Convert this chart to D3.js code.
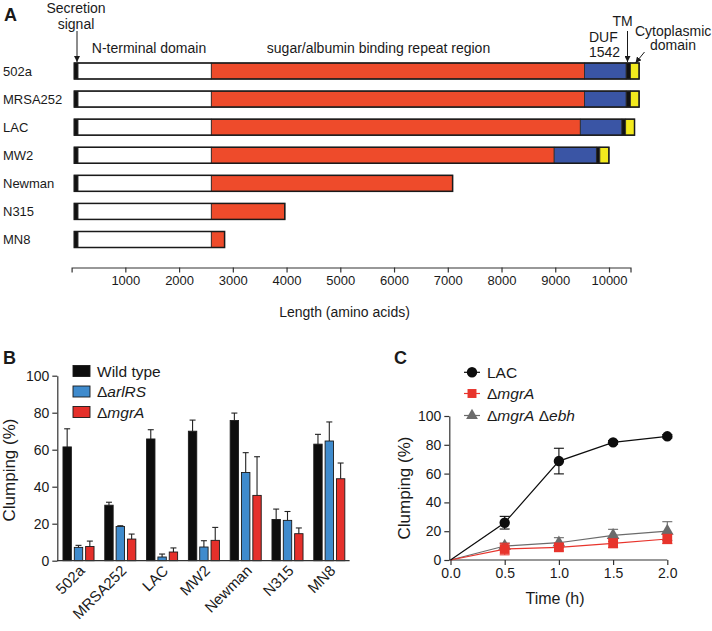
<!DOCTYPE html>
<html><head><meta charset="utf-8">
<script src="https://cdn.jsdelivr.net/npm/d3@7"></script>
<style>
body{margin:0;background:#fff}
svg text{font-family:"Liberation Sans",Arial,Helvetica,sans-serif;fill:#1a1a1a}
</style></head><body>
<svg id="c" width="712" height="631"></svg>
<script>
// ---------- Panel A data ----------
const strainsA = ["502a","MRSA252","LAC","MW2","Newman","N315","MN8"];
const proteinStart = [50,50,50,50,50,50,50];
const signalEnd = [120,120,120,120,120,120,120];
const ntermEnd = [2600,2600,2600,2600,2600,2600,2600];
const repeatEnd = [9545,9545,9466,8980,7090,3967,2847];
const dufEnd = [10320,10320,10240,9765,null,null,null];
const tmEnd = [10400,10400,10310,9830,null,null,null];
const cytoEnd = [10560,10560,10475,9998,null,null,null];
const lengthTicks = [1000,2000,3000,4000,5000,6000,7000,8000,9000,10000];

// ---------- Panel B data ----------
const strainsB = ["502a","MRSA252","LAC","MW2","Newman","N315","MN8"];
const seriesB = ["Wild type","ΔarlRS","ΔmgrA"];
const wildType = [61.5,30,65.8,70,75.8,22.3,63];
const wildTypeErr = [9.8,1.6,5,6,4,5.6,5.3];
const arlRS = [7.2,18.5,2,7.4,47.7,21.8,64.7];
const arlRSErr = [1.1,0.4,1.6,3.4,10.7,4.8,10.3];
const mgrA = [7.7,11.7,4.7,11,35.3,14.6,44.3];
const mgrAErr = [2.9,2.7,2.2,7,20.9,3.1,8.5];
const clumpTicks = [0,20,40,60,80,100];

// ---------- Panel C data ----------
const timeH = [0,0.5,1,1.5,2];
const lacC = [0,25.9,68.7,81.7,85.9];
const lacErrC = [0,4.4,8.9,1.2,1.2];
const mgrAC = [0,7.6,8.8,11.6,14.6];
const mgrAErrC = [0,4,2.5,3,3.2];
const ebhC = [0,9.7,12,17.1,20.1];
const ebhErrC = [0,2,3.5,4.2,6.5];
const timeTicks = [0,0.5,1,1.5,2];

const svg = d3.select("#c");
const ink = "#1a1a1a";

// arrow marker
svg.append("defs").append("marker").attr("id","ah").attr("viewBox","0 0 10 10")
  .attr("refX",10).attr("refY",5).attr("markerWidth",6).attr("markerHeight",6)
  .attr("markerUnits","userSpaceOnUse").attr("orient","auto")
  .append("path").attr("d","M0,0L10,5L0,10z").attr("fill",ink);

// =============== Panel A ===============
const xA = d3.scaleLinear().domain([0,10400]).range([71.6,630.5]);
const yA = d3.scalePoint().domain(strainsA).range([71,239.5]);
const barH = 16;
const cols = {sig:"#111", nt:"#ffffff", rep:"#ee4b2b", duf:"#3a55a5", tm:"#111", cyto:"#f3ea1e"};
const gA = svg.append("g");
strainsA.forEach((s,i)=>{
  const segs = [
    [proteinStart[i], signalEnd[i], cols.sig],
    [signalEnd[i], ntermEnd[i], cols.nt],
    [ntermEnd[i], repeatEnd[i], cols.rep]
  ];
  let end = repeatEnd[i];
  if (dufEnd[i] != null) {
    segs.push([repeatEnd[i], dufEnd[i], cols.duf]);
    segs.push([dufEnd[i], tmEnd[i], cols.tm]);
    segs.push([tmEnd[i], cytoEnd[i], cols.cyto]);
    end = cytoEnd[i];
  }
  const cy = yA(s);
  gA.selectAll(null).data(segs).enter().append("rect")
    .attr("x", d=>xA(d[0])).attr("width", d=>xA(d[1])-xA(d[0]))
    .attr("y", cy-barH/2).attr("height", barH)
    .attr("fill", d=>d[2]).attr("stroke","#2a2a2a").attr("stroke-width",0.8);
  gA.append("rect").attr("x", xA(proteinStart[i])).attr("width", xA(end)-xA(proteinStart[i]))
    .attr("y", cy-barH/2).attr("height", barH).attr("fill","none")
    .attr("stroke","#1a1a1a").attr("stroke-width",1.5);
  gA.append("text").attr("x",3).attr("y",cy+4.5).attr("font-size",13).text(s);
});
const axA = svg.append("g").attr("transform","translate(0,267.5)")
  .call(d3.axisBottom(xA).tickValues(lengthTicks).tickSize(5).tickSizeOuter(5).tickPadding(3).tickFormat(d3.format("d")));
axA.selectAll("text").attr("font-size",13).attr("fill",ink);
axA.selectAll("path,line").attr("stroke","#333").attr("stroke-width",1.2);
svg.append("text").attr("x",344.5).attr("y",316.5).attr("text-anchor","middle").attr("font-size",14).text("Length (amino acids)");

// labels
svg.append("text").attr("x",4).attr("y",21).attr("font-size",18).attr("font-weight","bold").text("A");
svg.append("text").attr("x",76).attr("y",13).attr("text-anchor","middle").attr("font-size",14).text("Secretion");
svg.append("text").attr("x",76).attr("y",28.5).attr("text-anchor","middle").attr("font-size",14).text("signal");
svg.append("line").attr("x1",77).attr("y1",31).attr("x2",77).attr("y2",62).attr("stroke",ink).attr("stroke-width",1).attr("marker-end","url(#ah)");
svg.append("text").attr("x",149).attr("y",53).attr("text-anchor","middle").attr("font-size",14).text("N-terminal domain");
svg.append("text").attr("x",378.5).attr("y",53).attr("text-anchor","middle").attr("font-size",14).text("sugar/albumin binding repeat region");
svg.append("text").attr("x",589).attr("y",41.5).attr("font-size",14).text("DUF");
svg.append("text").attr("x",589).attr("y",56.5).attr("font-size",14).text("1542");
svg.append("text").attr("x",622.5).attr("y",26).attr("text-anchor","middle").attr("font-size",14).text("TM");
svg.append("line").attr("x1",627.5).attr("y1",31).attr("x2",627.5).attr("y2",62).attr("stroke",ink).attr("stroke-width",1).attr("marker-end","url(#ah)");
svg.append("text").attr("x",635).attr("y",35.5).attr("font-size",14).text("Cytoplasmic");
svg.append("text").attr("x",650).attr("y",50).attr("font-size",14).text("domain");
svg.append("line").attr("x1",644.5).attr("y1",52).attr("x2",635.5).attr("y2",63).attr("stroke",ink).attr("stroke-width",1).attr("marker-end","url(#ah)");

// =============== Panel B ===============
const yB = d3.scaleLinear().domain([0,100]).range([560.7,375.7]);
const x0B = d3.scaleBand().domain(strainsB).range([57,349.6]).padding(0);
const x1B = d3.scaleBand().domain(seriesB).range([4.5,38.5]).paddingInner(0.26).paddingOuter(0.13);
const colB = {"Wild type":"#0d0d0d","ΔarlRS":"#3f8bcd","ΔmgrA":"#e5302b"};
const valsB = {"Wild type":[wildType,wildTypeErr],"ΔarlRS":[arlRS,arlRSErr],"ΔmgrA":[mgrA,mgrAErr]};
const gB = svg.append("g");
strainsB.forEach((s,i)=>{
  seriesB.forEach(k=>{
    const v = valsB[k][0][i], e = valsB[k][1][i];
    const bx = x0B(s)+x1B(k), bw = x1B.bandwidth(), cx = bx+bw/2;
    gB.append("line").attr("x1",cx).attr("x2",cx).attr("y1",yB(v)).attr("y2",yB(v+e)).attr("stroke","#222").attr("stroke-width",1.1);
    gB.append("line").attr("x1",cx-3).attr("x2",cx+3).attr("y1",yB(v+e)).attr("y2",yB(v+e)).attr("stroke","#222").attr("stroke-width",1.1);
    gB.append("rect").attr("x",bx).attr("width",bw).attr("y",yB(v)).attr("height",yB(0)-yB(v))
      .attr("fill",colB[k]).attr("stroke","#1a1a1a").attr("stroke-width",0.9);
  });
});
const ayB = svg.append("g").attr("transform","translate(57.3,0)")
  .call(d3.axisLeft(yB).tickValues(clumpTicks).tickSize(5).tickSizeOuter(0).tickPadding(3));
ayB.selectAll("text").attr("font-size",14).attr("fill",ink);
ayB.selectAll("path,line").attr("stroke","#333").attr("stroke-width",1.2);
svg.append("line").attr("x1",57).attr("x2",349.6).attr("y1",yB(0)).attr("y2",yB(0)).attr("stroke","#333").attr("stroke-width",1.2);
strainsB.forEach(s=>{
  svg.append("text").attr("transform",`translate(${x0B(s)+x0B.bandwidth()/2+4},${568}) rotate(-45)`)
    .attr("text-anchor","end").attr("dy","0.35em").attr("font-size",15).text(s);
});
svg.append("text").attr("transform","translate(15,470) rotate(-90)").attr("text-anchor","middle").attr("font-size",17).text("Clumping (%)");
svg.append("text").attr("x",3).attr("y",364).attr("font-size",18).attr("font-weight","bold").text("B");
// legend B
const legYB = [371,391.5,412];
seriesB.forEach((k,i)=>{
  svg.append("rect").attr("x",73).attr("y",legYB[i]-5.5).attr("width",17).attr("height",11).attr("fill",colB[k]).attr("stroke","#1a1a1a").attr("stroke-width",0.9);
  const t = svg.append("text").attr("x",97).attr("y",legYB[i]+5.5).attr("font-size",15.5);
  if (k.startsWith("Δ")) { t.append("tspan").text("Δ"); t.append("tspan").attr("font-style","italic").text(k.slice(1)); }
  else t.text(k);
});

// =============== Panel C ===============
const xC = d3.scaleLinear().domain([0,2]).range([450.5,667.3]);
const yC = d3.scaleLinear().domain([0,100]).range([560,416]);
const ayC = svg.append("g").attr("transform","translate(449.3,0)")
  .call(d3.axisLeft(yC).tickValues(clumpTicks).tickSize(5).tickSizeOuter(0).tickPadding(3));
ayC.selectAll("text").attr("font-size",14).attr("fill",ink);
ayC.selectAll("path,line").attr("stroke","#333").attr("stroke-width",1.2);
const axC = svg.append("g").attr("transform","translate(0,560)")
  .call(d3.axisBottom(xC).tickValues(timeTicks).tickSize(5).tickSizeOuter(0).tickPadding(3).tickFormat(d3.format(".1f")));
axC.selectAll("text").attr("font-size",14).attr("fill",ink);
axC.selectAll("path,line").attr("stroke","#333").attr("stroke-width",1.2);
axC.select("path.domain").attr("d",`M449.3,0H${xC(2)}`);
svg.append("text").attr("x",555).attr("y",604).attr("text-anchor","middle").attr("font-size",16).text("Time (h)");
svg.append("text").attr("transform","translate(410,488) rotate(-90)").attr("text-anchor","middle").attr("font-size",17).text("Clumping (%)");
svg.append("text").attr("x",394).attr("y",364).attr("font-size",18).attr("font-weight","bold").text("C");

const seriesC = [
  {name:"ebh", vals:ebhC, err:ebhErrC, color:"#6b6b6b", shape:d3.symbolTriangle, size:70},
  {name:"mgrA", vals:mgrAC, err:mgrAErrC, color:"#e8342c", shape:d3.symbolSquare, size:95},
  {name:"LAC", vals:lacC, err:lacErrC, color:"#0d0d0d", shape:d3.symbolCircle, size:85}
];
const lineC = d3.line().x((d,i)=>xC(timeH[i])).y(d=>yC(d));
seriesC.forEach(sr=>{
  const g = svg.append("g");
  g.append("path").attr("d",lineC(sr.vals)).attr("fill","none").attr("stroke",sr.color).attr("stroke-width",1.2);
  sr.vals.forEach((v,i)=>{
    const e = sr.err[i]; if (!e) return;
    const cx = xC(timeH[i]);
    g.append("line").attr("x1",cx).attr("x2",cx).attr("y1",yC(v-e)).attr("y2",yC(v+e)).attr("stroke",sr.color).attr("stroke-width",1.1);
    [v-e,v+e].forEach(w=>g.append("line").attr("x1",cx-5).attr("x2",cx+5).attr("y1",yC(w)).attr("y2",yC(w)).attr("stroke",sr.color).attr("stroke-width",1.1));
  });
  sr.vals.forEach((v,i)=>{
    if (i===0) return;
    g.append("path").attr("d",d3.symbol().type(sr.shape).size(sr.size)())
      .attr("transform",`translate(${xC(timeH[i])},${yC(v)})`).attr("fill",sr.color);
  });
});
// legend C
const legC = [
  {y:372.3, color:"#0d0d0d", shape:d3.symbolCircle, size:85, parts:[["LAC",false]]},
  {y:393.5, color:"#e8342c", shape:d3.symbolSquare, size:80, parts:[["Δ",false],["mgrA",true]]},
  {y:415.5, color:"#6b6b6b", shape:d3.symbolTriangle, size:60, parts:[["Δ",false],["mgrA",true],[" Δ",false],["ebh",true]]}
];
legC.forEach(l=>{
  svg.append("line").attr("x1",464).attr("x2",480).attr("y1",l.y).attr("y2",l.y).attr("stroke",l.color).attr("stroke-width",1.2);
  svg.append("path").attr("d",d3.symbol().type(l.shape).size(l.size)()).attr("transform",`translate(472,${l.y})`).attr("fill",l.color);
  const t = svg.append("text").attr("x",487).attr("y",l.y+5.5).attr("font-size",15.5);
  l.parts.forEach(p=>{ const ts=t.append("tspan").text(p[0]); if(p[1]) ts.attr("font-style","italic"); });
});
</script>
</body></html>
